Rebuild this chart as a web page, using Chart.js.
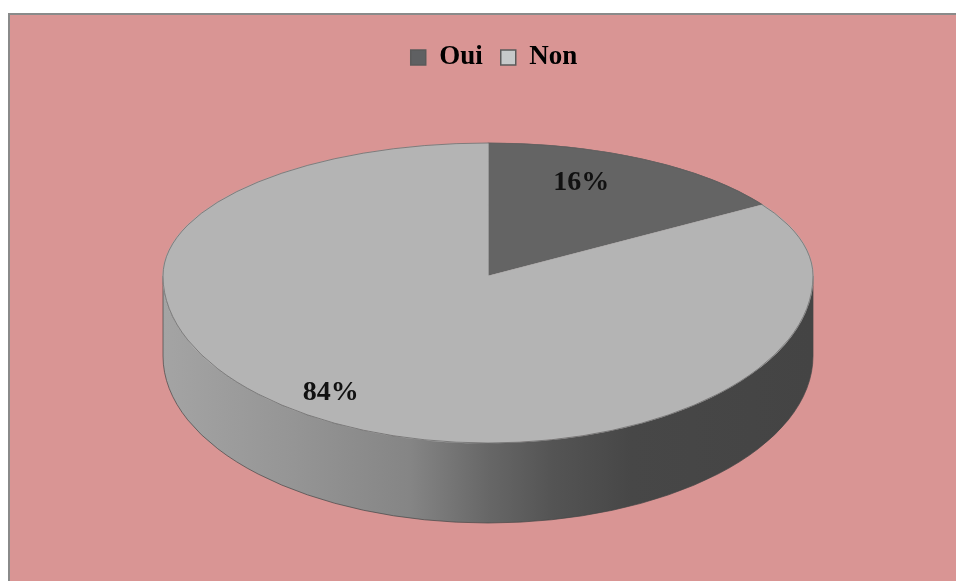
<!DOCTYPE html>
<html>
<head>
<meta charset="utf-8">
<script src="https://cdn.jsdelivr.net/npm/chart.js@4/dist/chart.umd.min.js"></script>
<style>
  html, body { margin: 0; padding: 0; background: #ffffff; }
  #c { display: block; }
</style>
</head>
<body>
<canvas id="c" width="956" height="581"></canvas>
<script>
// ---- data ----
const categories = ['Oui', 'Non'];
const shares = [16, 84];
const sliceColors = ['#646464', '#b4b4b4'];
const legendColors = ['#5f6062', '#c6c9ca'];

// ---- 3D look (layout constants, not data) ----
const GEOM = { cx: 488, cy: 276, rx: 325, ryTop: 133, ryBot: 167, depth: 80 };
const LABEL_STYLE = { radius: 0.8, dx: -32, dy: 0 };

function frontRange(a0, a1) {
  const out = [];
  for (let k = -2; k <= 2; k++) {
    const s = Math.max(a0 + k * 2 * Math.PI, 0);
    const e = Math.min(a1 + k * 2 * Math.PI, Math.PI);
    if (e > s) out.push([s, e]);
  }
  return out;
}

const pie3d = {
  id: 'pie3d',
  beforeDraw(chart) {
    const { ctx, width, height } = chart;
    ctx.save();
    ctx.fillStyle = '#ffffff';
    ctx.fillRect(0, 0, width, height);
    ctx.fillStyle = '#D99594';
    ctx.fillRect(8, 13, width - 8, height - 13);
    ctx.fillStyle = '#8a8a8a';
    ctx.fillRect(8, 13, width - 8, 2);
    ctx.fillRect(8, 13, 2, height - 13);
    ctx.restore();
  },
  beforeDatasetsDraw(chart) {
    const { ctx, width, height } = chart;
    const meta = chart.getDatasetMeta(0);
    const g = GEOM;
    meta.data.forEach((arc) => {
      frontRange(arc.startAngle, arc.endAngle).forEach(([s, e]) => {
        const grad = ctx.createLinearGradient(g.cx - g.rx, 0, g.cx + g.rx, 0);
        grad.addColorStop(0, '#a4a4a4');
        grad.addColorStop(0.2, '#959595');
        grad.addColorStop(0.38, '#858585');
        grad.addColorStop(0.5, '#676767');
        grad.addColorStop(0.6, '#545454');
        grad.addColorStop(0.72, '#474747');
        grad.addColorStop(1, '#444444');
        ctx.save();
        ctx.beginPath();
        ctx.moveTo(g.cx + g.rx * Math.cos(s), g.cy + g.ryBot * Math.sin(s));
        ctx.ellipse(g.cx, g.cy, g.rx, g.ryBot, 0, s, e, false);
        ctx.lineTo(g.cx + g.rx * Math.cos(e), g.cy + g.ryBot * Math.sin(e) + g.depth);
        ctx.ellipse(g.cx, g.cy + g.depth, g.rx, g.ryBot, 0, e, s, true);
        ctx.closePath();
        ctx.fillStyle = grad;
        ctx.fill();
        ctx.lineWidth = 1;
        ctx.strokeStyle = 'rgba(70,70,70,0.7)';
        ctx.stroke();
        ctx.restore();
      });
    });
    const halves = [
      { y0: 0, y1: g.cy, ry: g.ryTop },
      { y0: g.cy, y1: height, ry: g.ryBot }
    ];
    halves.forEach((h) => {
      ctx.save();
      ctx.beginPath();
      ctx.rect(0, h.y0, width, h.y1 - h.y0);
      ctx.clip();
      meta.data.forEach((arc) => {
        const R = arc.outerRadius;
        ctx.save();
        ctx.translate(g.cx, g.cy);
        ctx.scale(g.rx / R, h.ry / R);
        ctx.translate(-arc.x, -arc.y);
        arc.draw(ctx);
        ctx.restore();
      });
      ctx.restore();
    });
    ctx.save();
    ctx.strokeStyle = 'rgba(90,90,90,0.6)';
    ctx.lineWidth = 1;
    ctx.beginPath();
    ctx.ellipse(g.cx, g.cy, g.rx, g.ryTop, 0, Math.PI, 2 * Math.PI);
    ctx.stroke();
    ctx.beginPath();
    ctx.ellipse(g.cx, g.cy, g.rx, g.ryBot, 0, 0, Math.PI);
    ctx.stroke();
    ctx.restore();
    return false;
  },
  afterDraw(chart) {
    const { ctx } = chart;
    const meta = chart.getDatasetMeta(0);
    const g = GEOM;
    const f = LABEL_STYLE.radius;
    ctx.save();
    ctx.font = 'bold 28px "Liberation Serif", "Times New Roman", serif';
    ctx.fillStyle = '#111111';
    ctx.textAlign = 'center';
    ctx.textBaseline = 'middle';
    meta.data.forEach((arc, i) => {
      const mid = (arc.startAngle + arc.endAngle) / 2;
      const s = Math.sin(mid);
      const ry = s < 0 ? g.ryTop : g.ryBot;
      const x = g.cx + g.rx * f * Math.cos(mid) + LABEL_STYLE.dx;
      const y = g.cy + ry * f * s + LABEL_STYLE.dy;
      ctx.fillText(shares[i] + '%', x, y);
    });
    ctx.restore();
  }
};

new Chart(document.getElementById('c'), {
  type: 'pie',
  data: {
    labels: categories,
    datasets: [{
      data: shares,
      backgroundColor: sliceColors,
      borderColor: sliceColors,
      borderWidth: 1
    }]
  },
  options: {
    responsive: false,
    devicePixelRatio: 1,
    animation: false,
    layout: { padding: { top: 26, left: 32, right: 0, bottom: 0 } },
    plugins: {
      tooltip: { enabled: false },
      legend: {
        position: 'top',
        labels: {
          color: '#000000',
          font: { family: '"Liberation Serif", "Times New Roman", serif', size: 27, weight: 'bold' },
          boxWidth: 15,
          boxHeight: 15,
          padding: 18,
          generateLabels(chart) {
            return categories.map((name, i) => ({
              text: name,
              fillStyle: legendColors[i],
              strokeStyle: '#5a5a5a',
              lineWidth: 1.5,
              hidden: false,
              index: i,
              fontColor: '#000000'
            }));
          }
        }
      }
    }
  },
  plugins: [pie3d]
});
</script>
</body>
</html>
